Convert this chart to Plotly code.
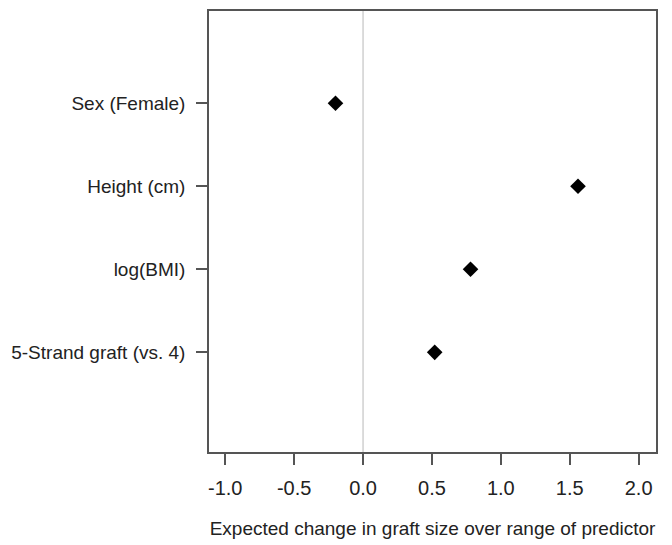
import plotly.graph_objects as go

predictors = ["Sex (Female)", "Height (cm)", "log(BMI)", "5-Strand graft (vs. 4)"]
positions = [4, 3, 2, 1]
effects = [-0.20, 1.56, 0.78, 0.52]
x_ticks = [-1.0, -0.5, 0.0, 0.5, 1.0, 1.5, 2.0]
x_tick_labels = ["-1.0", "-0.5", "0.0", "0.5", "1.0", "1.5", "2.0"]

fig = go.Figure()
fig.add_trace(
    go.Scatter(
        x=effects,
        y=positions,
        mode="markers",
        marker=dict(symbol="diamond", size=12, color="black"),
        showlegend=False,
    )
)
fig.add_vline(x=0, line=dict(color="#c4c4c4", width=1.2))

# page body adds an 8px offset, so margins are shifted to compensate
fig.update_layout(
    width=672,
    height=545,
    margin=dict(l=201, r=24, t=3, b=101),
    plot_bgcolor="white",
    paper_bgcolor="white",
    font=dict(family="Liberation Sans, Arial, sans-serif", size=19, color="#222"),
    xaxis=dict(
        range=[-1.118, 2.126],
        tickvals=x_ticks,
        ticktext=x_tick_labels,
        ticks="outside",
        ticklen=11,
        tickwidth=1.5,
        tickcolor="#555",
        showgrid=False,
        zeroline=False,
        showline=True,
        linecolor="#555",
        linewidth=1.5,
        mirror=True,
        automargin=False,
        ticklabelstandoff=6,
        tickfont=dict(size=20),
        title=dict(
            text="Expected change in graft size over range of predictor",
            font=dict(size=19),
            standoff=24,
        ),
    ),
    yaxis=dict(
        range=[-0.2, 5.11],
        tickvals=positions,
        ticktext=predictors,
        ticks="outside",
        ticklen=11,
        tickwidth=1.5,
        tickcolor="#555",
        showgrid=False,
        zeroline=False,
        showline=True,
        linecolor="#555",
        linewidth=1.5,
        mirror=True,
        automargin=False,
        ticklabelstandoff=7,
        tickfont=dict(size=19),
    ),
)

fig.write_html("out.html")
